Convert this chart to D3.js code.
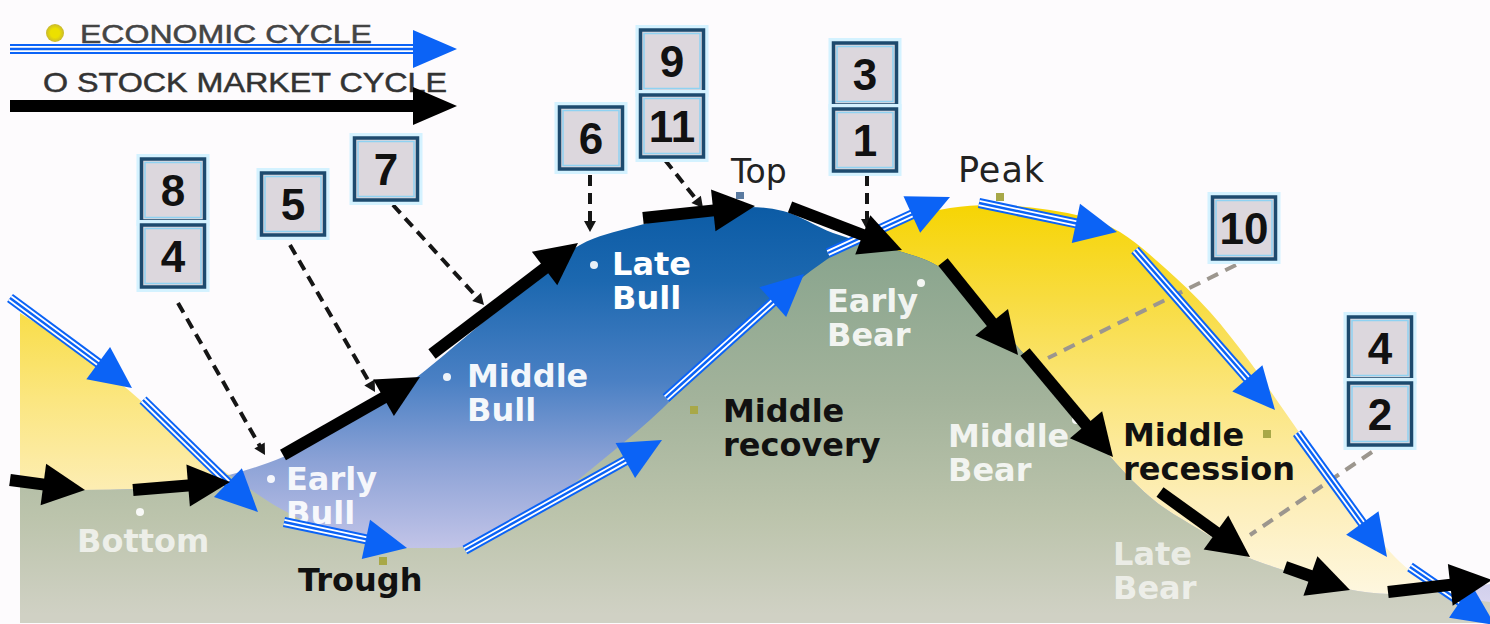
<!DOCTYPE html>
<html><head><meta charset="utf-8">
<script src="https://cdn.jsdelivr.net/npm/d3@7"></script>
<style>
html,body{margin:0;padding:0;background:#fdfbfd;}
svg{display:block;}
</style></head><body>
<svg id="chart" width="1490" height="624"></svg>
<script>
// ---------- DATA (time t, level v) ----------
const econT     = [0, 8, 12, 16.3, 20.7, 26.3, 32, 38, 43, 48, 53, 58, 63, 68, 73, 78.3, 83, 88, 93, 97, 103, 110, 114.5, 119, 123, 126.5, 130, 134, 138, 142, 147];
const econLevel = [60.4, 49.6, 43, 35, 28.4, 21, 16, 13.4, 13.4, 16, 22.6, 30.6, 39, 48.6, 58, 67.6, 74, 78.6, 81.4, 82, 81, 76.6, 69.4, 60.6, 50.6, 40.6, 30.6, 20, 10.6, 5, 2.6];

const stockT     = [0, 6, 12, 18, 22, 26.3, 33, 39.7, 43, 48, 52, 56, 61.3, 68, 73, 76.3, 81.3, 85, 88.2, 92.1, 96, 100.3, 104, 108, 113, 118, 122.7, 127, 132.7, 137, 142, 147];
const stockLevel = [26.2, 25, 25.2, 26.8, 28.6, 31.6, 39, 47.6, 53, 61.4, 68.2, 74, 77.6, 80.6, 81.6, 80.8, 76.4, 74.2, 72.6, 69.4, 62, 52.4, 44, 34, 23.6, 17, 11.6, 8.6, 5.2, 4.2, 4.8, 6.2];

// economic cycle arrows: [t1, v1, t2(tip), v2(tip)]
const econArrows = [
  [-1, 63.4, 11.2, 45.4], [12.3, 43, 23.8, 20.6], [26.4, 18.6, 38.7, 13.4],
  [44.5, 13, 64.2, 35], [64.6, 43.4, 78.4, 68.2], [80.8, 72.4, 93, 83.6],
  [95.9, 82.4, 109.7, 76.6], [111.5, 73, 125.5, 41], [127.7, 36.4, 136.7, 11.6],
  [139, 9.6, 147.5, -2]
];
// stock market cycle arrows
const stockArrows = [
  [-1, 27, 6.5, 25], [11.3, 25, 21, 26.6], [26.3, 32, 40, 47.6],
  [41.2, 52.2, 55.8, 74.4], [62.3, 79.4, 73.5, 81.8], [77, 81.6, 88.2, 73],
  [92.3, 70.6, 99.8, 52], [100.5, 52.6, 109.3, 31.6], [114, 24.6, 123, 11.6],
  [126.5, 9.6, 133, 5], [136.8, 4.6, 147.2, 7]
];

// numbered boxes
const boxNumbers = ["8", "4", "5", "7", "6", "9", "11", "3", "1", "10", "4", "2"];
const boxT       = [15.3, 15.3, 27.3, 36.6, 57.1, 65.2, 65.2, 84.5, 84.5, 122.4, 136, 136];
const boxV       = [85, 71.8, 82.2, 89.2, 95.4, 110.8, 97.8, 108.2, 95, 77.4, 53.4, 40.2];

// dashed pointers from boxes
const pointers = [
  [15.8, 62.4, 24.5, 32], [27, 74, 35.5, 44.6], [37.3, 82, 46.4, 62],
  [57, 88, 57, 76.6], [64.5, 91, 68.3, 81.4], [84.7, 88, 84.7, 77]
];
const grayPointers = [[121.6, 70, 102.8, 51.4], [135.2, 32.6, 123, 16]];

// phase labels
const phaseNames = ["Bottom", "Early|Bull", "Middle|Bull", "Late|Bull", "Early|Bear", "Middle|Bear", "Late|Bear",
                    "Trough", "Middle|recovery", "Middle|recession"];
const phaseT = [5.7, 26.6, 44.7, 59.2, 80.7, 92.8, 109.3, 27.8, 70.3, 110.3];
const phaseV = [12.6, 25, 45.6, 68, 60.6, 33.6, 10, 4.8, 38.6, 33.8];
const phaseDark = [false, false, false, false, false, false, false, true, true, true];
const phaseOpacity = [0.72, 0.92, 0.95, 1, 0.9, 0.85, 0.68, 1, 1, 1];

// point markers
const stockDotT = [12, 25.1, 42.7, 57.4, 90.1, 105.6];
const stockDotV = [20.6, 27.2, 47.6, 70, 66.4, 39];
const econMarkT = [36.3, 67.4, 98, 124.7];
const econMarkV = [10.8, 41, 83.6, 36.2];

// ---------- SETUP ----------
const W = 1490, H = 624;
const x = d3.scaleLinear().domain([0, 147]).range([20, 1490]);
const y = d3.scaleLinear().domain([0, 88]).range([615, 175]);
const svg = d3.select("#chart");
const defs = svg.append("defs");

svg.append("rect").attr("width", W).attr("height", H).attr("fill", "#fdfbfd");

function grad(id, stops) {
  const g = defs.append("linearGradient").attr("id", id)
    .attr("gradientUnits", "userSpaceOnUse").attr("x1", 0).attr("x2", 0).attr("y1", 0).attr("y2", H);
  stops.forEach(([o, c]) => g.append("stop").attr("offset", o).attr("stop-color", c));
}
grad("gYellow", [[0.32, "#f6d400"], [0.48, "#f8dc40"], [0.64, "#fbe680"], [0.8, "#fdeeb8"], [0.97, "#fef8e4"]]);
grad("gBlue", [[0.32, "#0a5aa4"], [0.45, "#1c68b0"], [0.61, "#4a80c4"], [0.74, "#8ca2d6"], [0.88, "#c2c4e8"], [0.98, "#dcd8f0"]]);
grad("gGray", [[0.37, "#86a38c"], [0.64, "#a3b39b"], [0.83, "#bcc4ac"], [0.985, "#d0d1c4"]]);

const econData = econT.map((t, i) => ({ t, v: econLevel[i] }));
const stockData = stockT.map((t, i) => ({ t, v: stockLevel[i] }));
const area = d3.area().x(d => x(d.t)).y0(y(-1.6)).y1(d => y(d.v)).curve(d3.curveMonotoneX);

defs.append("clipPath").attr("id", "stockClip").append("path").attr("d", area(stockData));

const areas = svg.append("g");
areas.append("path").attr("d", area(econData)).attr("fill", "url(#gYellow)");
areas.append("path").attr("d", area(stockData)).attr("fill", "url(#gBlue)");
areas.append("path").attr("d", area(econData)).attr("fill", "url(#gGray)").attr("clip-path", "url(#stockClip)");

// ---------- ARROWS ----------
function arrowGeom(x1, y1, x2, y2, hl, hw) {
  const dx = x2 - x1, dy = y2 - y1, L = Math.hypot(dx, dy);
  const ux = dx / L, uy = dy / L, px = -uy, py = ux;
  const bx = x2 - ux * hl, by = y2 - uy * hl;
  return {
    line: [[x1, y1], [bx + ux * 3, by + uy * 3]],
    head: [[x2, y2], [bx + px * hw, by + py * hw], [bx - px * hw, by - py * hw]]
  };
}
const lineGen = d3.line();
function blueArrow(g, x1, y1, x2, y2, hl = 42, hw = 20) {
  const a = arrowGeom(x1, y1, x2, y2, hl, hw);
  g.append("path").attr("d", lineGen(a.line)).attr("stroke", "#0b63f6").attr("stroke-width", 10).attr("fill", "none");
  g.append("path").attr("d", lineGen(a.line)).attr("stroke", "#ffffff").attr("stroke-width", 6).attr("fill", "none");
  g.append("path").attr("d", lineGen(a.line)).attr("stroke", "#0b63f6").attr("stroke-width", 2.4).attr("fill", "none");
  g.append("path").attr("d", lineGen(a.head) + "Z").attr("fill", "#0b63f6");
}
function blackArrow(g, x1, y1, x2, y2, hl = 42, hw = 21) {
  const a = arrowGeom(x1, y1, x2, y2, hl, hw);
  g.append("path").attr("d", lineGen(a.line)).attr("stroke", "#000").attr("stroke-width", 12).attr("fill", "none");
  g.append("path").attr("d", lineGen(a.head) + "Z").attr("fill", "#000");
}

// dashed pointers
const pg = svg.append("g");
pointers.forEach(([t1, v1, t2, v2]) => {
  const a = arrowGeom(x(t1), y(v1), x(t2), y(v2), 11, 6);
  pg.append("path").attr("d", lineGen(a.line)).attr("stroke", "#151515").attr("stroke-width", 4)
    .attr("stroke-dasharray", "11,7").attr("fill", "none");
  pg.append("path").attr("d", lineGen(a.head) + "Z").attr("fill", "#151515");
});
grayPointers.forEach(([t1, v1, t2, v2]) => {
  pg.append("line").attr("x1", x(t1)).attr("y1", y(v1)).attr("x2", x(t2)).attr("y2", y(v2))
    .attr("stroke", "#9c968e").attr("stroke-width", 4).attr("stroke-dasharray", "12,8");
});

// ---------- LABELS ----------
const lg = svg.append("g").attr("font-family", "'DejaVu Sans', Verdana, sans-serif").attr("font-weight", "bold").attr("font-size", 32);
phaseNames.forEach((name, i) => {
  const t = lg.append("text").attr("x", x(phaseT[i])).attr("y", y(phaseV[i]))
    .attr("fill", phaseDark[i] ? "#111" : "#ffffff").attr("fill-opacity", phaseOpacity[i]);
  name.split("|").forEach((s, k) => t.append("tspan").attr("x", x(phaseT[i])).attr("dy", k === 0 ? 0 : 34).text(s));
});
svg.append("text").attr("x", x(71.1)).attr("y", y(86.4)).attr("font-family", "'DejaVu Sans', sans-serif")
  .attr("font-size", 33).attr("fill", "#222").text("Top");
svg.append("text").attr("x", x(93.8)).attr("y", y(86.6)).attr("font-family", "'DejaVu Sans', sans-serif")
  .attr("font-size", 35).attr("letter-spacing", 1).attr("fill", "#222").text("Peak");

// markers
stockDotT.forEach((t, i) => svg.append("circle").attr("cx", x(t)).attr("cy", y(stockDotV[i])).attr("r", 4)
  .attr("fill", "#fff").attr("fill-opacity", 0.9));
econMarkT.forEach((t, i) => svg.append("rect").attr("x", x(t) - 4).attr("y", y(econMarkV[i]) - 4)
  .attr("width", 8).attr("height", 8).attr("fill", "#a8a848"));
svg.append("rect").attr("x", x(72) - 4).attr("y", y(84) - 3).attr("width", 8).attr("height", 7).attr("fill", "#5a7aa0");

// arrows on top
const ag = svg.append("g");
econArrows.forEach(([t1, v1, t2, v2]) => blueArrow(ag, x(t1), y(v1), x(t2), y(v2)));
stockArrows.forEach(([t1, v1, t2, v2]) => blackArrow(ag, x(t1), y(v1), x(t2), y(v2)));

// ---------- BOXES ----------
const bw = 63, bh = 62;
const bg = svg.append("g");
boxNumbers.forEach((n, i) => {
  const cx = x(boxT[i]), cy = y(boxV[i]);
  const g = bg.append("g").attr("transform", `translate(${cx - bw / 2},${cy - bh / 2})`);
  g.append("rect").attr("x", -3).attr("y", -3).attr("width", bw + 6).attr("height", bh + 6)
    .attr("fill", "none").attr("stroke", "#d4f2ff").attr("stroke-width", 4);
  g.append("rect").attr("width", bw).attr("height", bh).attr("fill", "#dcd7dd")
    .attr("stroke", "#1d4a6e").attr("stroke-width", 3.5);
  g.append("rect").attr("x", 3.5).attr("y", 3.5).attr("width", bw - 7).attr("height", bh - 7)
    .attr("fill", "none").attr("stroke", "#8fd2f2").attr("stroke-width", 1.5);
  g.append("text").attr("x", bw / 2).attr("y", bh / 2 + 16).attr("text-anchor", "middle")
    .attr("font-family", "'Liberation Sans', Arial, sans-serif").attr("font-weight", "bold")
    .attr("font-size", 44).attr("fill", "#111").text(n);
});

// ---------- LEGEND ----------
const leg = svg.append("g");
const rg = defs.append("radialGradient").attr("id", "gDot");
rg.append("stop").attr("offset", 0.5).attr("stop-color", "#ece000");
rg.append("stop").attr("offset", 1).attr("stop-color", "#c8b830");
leg.append("circle").attr("cx", 55).attr("cy", 33).attr("r", 9).attr("fill", "url(#gDot)");
leg.append("text").attr("x", 80).attr("y", 43).attr("font-family", "'Liberation Sans', Arial, sans-serif")
  .attr("font-size", 25).attr("fill", "#444").attr("stroke", "#444").attr("stroke-width", 0.5)
  .attr("textLength", 292).attr("lengthAdjust", "spacingAndGlyphs")
  .text("ECONOMIC CYCLE");
leg.append("text").attr("x", 43).attr("y", 92).attr("font-family", "'Liberation Sans', Arial, sans-serif")
  .attr("font-size", 28).attr("fill", "#333").attr("stroke", "#333").attr("stroke-width", 0.5)
  .attr("textLength", 404).attr("lengthAdjust", "spacingAndGlyphs")
  .text("O STOCK MARKET CYCLE");
blueArrow(leg, 10, 49, 457, 49, 44, 19);
blackArrow(leg, 10, 106, 457, 106, 44, 19);
</script>
</body></html>
